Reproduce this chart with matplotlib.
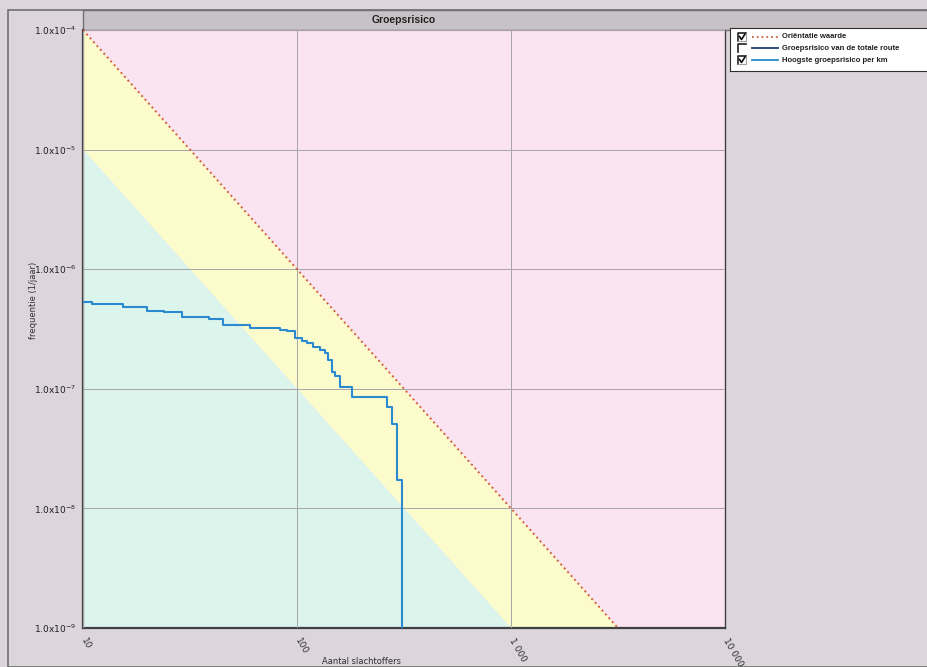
import matplotlib
matplotlib.use("Agg")
import matplotlib.pyplot as plt
from matplotlib.patches import Rectangle, Polygon

# orientation value (norm line) end points
orient_n = [10, 3162]
orient_f = [1e-4, 1e-9]
# lower boundary of the yellow band
band_n = [10, 1000]
band_f = [1e-5, 1e-9]

# "Hoogste groepsrisico per km" (step curve)
hgr_n = [10, 11, 15.4, 20, 24, 29, 39, 45, 60, 83, 90, 97.6, 105, 111, 119,
         128, 135, 140, 145, 150, 158, 180, 262, 277, 292, 308]
hgr_f = [5.3e-7, 5.1e-7, 4.8e-7, 4.5e-7, 4.35e-7, 4.0e-7, 3.8e-7, 3.4e-7,
         3.2e-7, 3.12e-7, 3.02e-7, 2.65e-7, 2.5e-7, 2.4e-7, 2.25e-7, 2.1e-7,
         2.0e-7, 1.74e-7, 1.37e-7, 1.27e-7, 1.04e-7, 8.5e-8, 7.0e-8, 5.1e-8,
         1.73e-8, 1e-10]

xticks = [10, 100, 1000, 10000]
xticklabels = ["10", "100", "1 000", "10 000"]
yticks = [1e-9, 1e-8, 1e-7, 1e-6, 1e-5, 1e-4]
yticklabels = [r"1.0x10$^{-%d}$" % e for e in [9, 8, 7, 6, 5, 4]]

legend_labels = ["Oriëntatie waarde", "Groepsrisico van de totale route",
                 "Hoogste groepsrisico per km"]
legend_checked = [True, False, True]
legend_colors = ["#d0603a", "#1f3f6f", "#2a8ad0"]
legend_styles = [":", "-", "-"]

W, H = 927, 667
bg = "#dcd6dc"
fig = plt.figure(figsize=(W / 100, H / 100), dpi=100, facecolor=bg)

def fx(px):
    return px / W

def fy(py):
    return 1 - py / H

# outer frame + title bar (behind the axes)
fig.patches.append(Rectangle((fx(8), 0), 1, fy(10), transform=fig.transFigure,
                             facecolor="none", edgecolor="#707070", lw=1.2,
                             zorder=-2))
fig.patches.append(Rectangle((fx(83), fy(30)), 1, 20 / H, transform=fig.transFigure,
                             facecolor="#c6c2c6", edgecolor="#707070", lw=1.0,
                             zorder=-1))
fig.text(fx(404), fy(20), "Groepsrisico", ha="center", va="center",
         fontsize=7.5, fontweight="bold", color="#202020", family="Liberation Sans")

ax = fig.add_axes([fx(83), fy(628), fx(725 - 83), (628 - 30) / H])
ax.set_xscale("log")
ax.set_yscale("log")
ax.set_xlim(10, 10000)
ax.set_ylim(1e-9, 1e-4)
ax.set_facecolor("#fbe4f1")

yellow = Polygon([(orient_n[0], orient_f[0]), (orient_n[1], orient_f[1]),
                  (band_n[1], band_f[1]), (band_n[0], band_f[0])],
                 closed=True, facecolor="#fbfbcc", edgecolor="none", zorder=0.5)
green = Polygon([(band_n[0], band_f[0]), (band_n[1], band_f[1]),
                 (band_n[0], band_f[1])],
                closed=True, facecolor="#dbf5ed", edgecolor="none", zorder=0.6)
ax.add_patch(yellow)
ax.add_patch(green)

ax.grid(True, which="major", color="#a8a4a8", lw=0.7)
ax.set_axisbelow(False)
for gl in ax.get_xgridlines() + ax.get_ygridlines():
    gl.set_zorder(0.8)

ax.plot(orient_n, orient_f, ls=":", color=legend_colors[0], lw=1.4, zorder=3)
ax.step(hgr_n, hgr_f, where="post", color=legend_colors[2], lw=1.5, zorder=4)

ax.set_xticks(xticks)
ax.set_xticklabels(xticklabels, rotation=-60, ha="left", va="center",
                   rotation_mode="anchor", fontsize=6.5, color="#303030")
ax.set_yticks(yticks)
ax.set_yticklabels(yticklabels, fontsize=6.5, color="#202020")
ax.minorticks_off()
ax.tick_params(length=0, pad=5)
ax.tick_params(axis="x", pad=8)

for s in ["left", "bottom"]:
    ax.spines[s].set_linewidth(1.6)
    ax.spines[s].set_color("#404040")
ax.spines["right"].set_linewidth(1.0)
ax.spines["right"].set_color("#404040")
ax.spines["top"].set_linewidth(0.8)
ax.spines["top"].set_color("#707070")

fig.text(fx(33), fy(300), "frequentie (1/jaar)", rotation=90, ha="center",
         va="center", fontsize=6, color="#303030")
fig.text(fx(362), fy(662), "Aantal slachtoffers", ha="center", va="center",
         fontsize=6, color="#303030")

# legend panel with check boxes
lg = fig.add_axes([fx(730), fy(71), fx(230), 43 / H])
lg.set_xlim(0, 230)
lg.set_ylim(43, 0)
lg.set_facecolor("white")
lg.set_xticks([])
lg.set_yticks([])
for s in lg.spines.values():
    s.set_color("#303030")
    s.set_linewidth(0.8)
rows = [9, 20, 32]
for y, lab, chk, col, ls in zip(rows, legend_labels, legend_checked,
                                legend_colors, legend_styles):
    lg.plot([8, 8, 16], [y + 4, y - 4, y - 4], color="#202020", lw=1.2)
    if chk:
        lg.plot([16, 16, 8], [y - 4, y + 4, y + 4], color="#a0a0a0", lw=0.8)
        lg.plot([9.5, 11.5, 15], [y - 0.5, y + 2.5, y - 3], color="#101010", lw=1.2)
    lg.plot([22, 48], [y, y], color=col, ls=ls, lw=1.3)
    lg.text(52, y, lab, va="center", ha="left", fontsize=5.5,
            fontweight="bold", color="#202020", family="Liberation Sans")

fig.savefig("out.png", dpi=100, facecolor=bg)
